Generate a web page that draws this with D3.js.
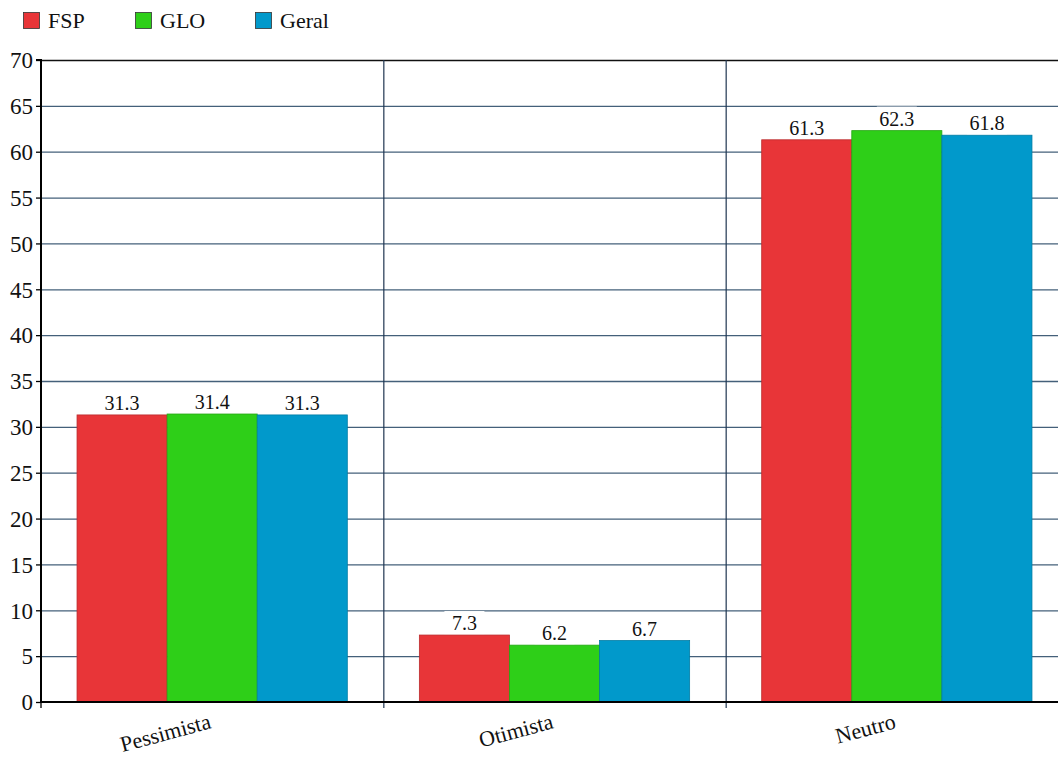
<!DOCTYPE html>
<html>
<head>
<meta charset="utf-8">
<script src="https://cdn.jsdelivr.net/npm/d3@7"></script>
<style>
  body { margin: 0; background: #fff; }
  svg { font-family: "Liberation Serif", "Times New Roman", serif; }
</style>
</head>
<body>
<div class="chart"></div>
<script>
var categories = ["Pessimista", "Otimista", "Neutro"];
var seriesNames = ["FSP", "GLO", "Geral"];
var fsp = [31.3, 7.3, 61.3];
var glo = [31.4, 6.2, 62.3];
var geral = [31.3, 6.7, 61.8];
var yTicks = [0, 5, 10, 15, 20, 25, 30, 35, 40, 45, 50, 55, 60, 65, 70];
var colors = ["#e83538", "#2ecf18", "#0199cb"];

var w = 1058, h = 758;
var padLeft = 41, padTop = 60, padBottom = 702, padRight = 1068;

var seriesValues = [fsp, glo, geral];
var data = [];
categories.forEach(function(c, i) {
  seriesNames.forEach(function(s, j) {
    data.push({ cat: c, series: s, value: seriesValues[j][i], idx: j });
  });
});

var svg = d3.select(".chart").append("svg")
  .attr("width", w)
  .attr("height", h);

var x0 = d3.scaleBand().domain(categories).range([padLeft, padRight]);
var x1 = d3.scaleBand().domain(seriesNames)
  .range([0, x0.bandwidth()])
  .paddingOuter(0.4);
var y = d3.scaleLinear().domain([0, 70]).range([padBottom, padTop]);

// horizontal grid
svg.append("g").selectAll("line")
  .data(yTicks.slice(1, -1))
  .enter().append("line")
  .attr("x1", padLeft).attr("x2", w)
  .attr("y1", function(d) { return y(d) + 0.5; })
  .attr("y2", function(d) { return y(d) + 0.5; })
  .attr("stroke", "#44607a")
  .attr("stroke-width", 1.3);

// top border
svg.append("line")
  .attr("x1", padLeft).attr("x2", w)
  .attr("y1", y(70) + 0.5).attr("y2", y(70) + 0.5)
  .attr("stroke", "#111").attr("stroke-width", 1.3);

// vertical dividers
svg.append("g").selectAll("line")
  .data(categories.slice(1))
  .enter().append("line")
  .attr("x1", function(d) { return x0(d) + 0.5; })
  .attr("x2", function(d) { return x0(d) + 0.5; })
  .attr("y1", padTop).attr("y2", padBottom + 6)
  .attr("stroke", "#1f3550").attr("stroke-width", 1.2);

// bars
svg.append("g").selectAll("rect")
  .data(data)
  .enter().append("rect")
  .attr("x", function(d) { return x0(d.cat) + x1(d.series); })
  .attr("y", function(d) { return y(d.value); })
  .attr("width", x1.bandwidth())
  .attr("height", function(d) { return padBottom - y(d.value); })
  .attr("fill", function(d) { return colors[d.idx]; })
  .attr("stroke", function(d) { return d3.color(colors[d.idx]).darker(0.6); })
  .attr("stroke-width", 0.8);

// value labels with white background
var labels = svg.append("g").selectAll("g")
  .data(data)
  .enter().append("g")
  .attr("transform", function(d) {
    return "translate(" + (x0(d.cat) + x1(d.series) + x1.bandwidth() / 2) + "," + (y(d.value) - 5) + ")";
  });

labels.append("rect")
  .attr("x", -20).attr("y", -19)
  .attr("width", 40).attr("height", 23)
  .attr("fill", "#fff");

labels.append("text")
  .attr("text-anchor", "middle")
  .attr("font-size", "20px")
  .attr("fill", "#111")
  .text(function(d) { return d.value.toFixed(1); });

// y axis
var yAxis = d3.axisLeft(y).tickValues(yTicks).tickSize(5).tickPadding(3);
var gy = svg.append("g")
  .attr("transform", "translate(" + padLeft + ",0)")
  .call(yAxis);
gy.select(".domain").attr("stroke", "#000").attr("stroke-width", 2).attr("d", "M-5," + padTop + "H0V" + padBottom);
gy.selectAll(".tick line").attr("stroke", "#000").attr("stroke-width", 1.3);
gy.selectAll(".tick text")
  .attr("font-family", "Liberation Serif, serif")
  .attr("font-size", "23px")
  .attr("fill", "#111")
  .attr("dy", "0.34em");

// x axis baseline
svg.append("line")
  .attr("x1", padLeft).attr("x2", w)
  .attr("y1", padBottom).attr("y2", padBottom)
  .attr("stroke", "#000").attr("stroke-width", 2);

svg.append("line")
  .attr("x1", padLeft).attr("x2", padLeft)
  .attr("y1", padBottom).attr("y2", padBottom + 6)
  .attr("stroke", "#000").attr("stroke-width", 1.3);

// category labels
svg.append("g").selectAll("text")
  .data(categories)
  .enter().append("text")
  .attr("transform", function(d) {
    return "translate(" + (x0(d) + x0.bandwidth() / 2) + "," + (padBottom + 26) + ") rotate(-15)";
  })
  .attr("text-anchor", "end")
  .attr("font-size", "22px")
  .attr("fill", "#111")
  .text(function(d) { return d; });

// legend
var legendX = [23, 135, 255];
var legend = svg.append("g").selectAll("g")
  .data(seriesNames)
  .enter().append("g")
  .attr("transform", function(d, i) { return "translate(" + legendX[i] + ",12)"; });

legend.append("rect")
  .attr("x", 0.5).attr("y", 0.5)
  .attr("width", 16).attr("height", 16)
  .attr("fill", function(d, i) { return colors[i]; })
  .attr("stroke", "#333").attr("stroke-width", 0.8);

legend.append("text")
  .attr("x", 25).attr("y", 16)
  .attr("font-size", "22px")
  .attr("fill", "#111")
  .text(function(d) { return d; });
</script>
</body>
</html>
